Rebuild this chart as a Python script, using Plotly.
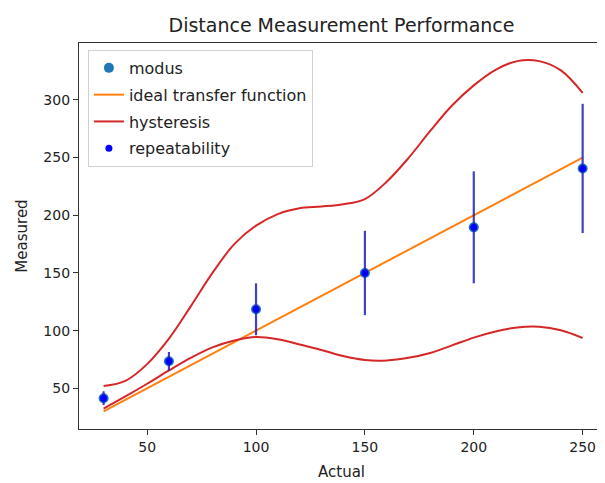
import plotly.graph_objects as go

# ---- data ----
actual = [30, 60, 100, 150, 200, 250]
modus = [41.5, 73.5, 118.5, 150, 189.5, 240.5]
repeat_err = [6, 8, 22.5, 36.5, 48.5, 56]

ideal_x = [30, 250]
ideal_y = [30, 250]

hyst_x = [30, 40, 50, 60, 70, 80, 90, 100, 110, 120, 130, 140, 150, 160,
          170, 180, 190, 200, 210, 220, 230, 240, 250]
hyst_up_y = [52, 56.5, 71, 93, 121, 150, 175, 191, 201, 206, 207.5, 209.5,
             214, 229, 249.5, 273, 295, 312.5, 326, 333.5, 333.5, 325.5, 306]
hyst_lo_y = [32.5, 43, 54, 65.5, 76.4, 85.5, 91.5, 94.5, 92.5, 88, 83.3,
             78, 74.6, 74.2, 76.5, 80.7, 87.2, 94, 99.3, 102.8, 103.4, 100.3,
             93.6]

x_ticks = [50, 100, 150, 200, 250]
y_ticks = [50, 100, 150, 200, 250, 300]

FONT = "DejaVu Sans"
# the page body has an 8px default margin; size the figure so the plot area
# lands where the reference has it
PAGE_OFFSET = 8

fig = go.Figure()

fig.add_trace(go.Scatter(
    x=ideal_x, y=ideal_y, mode="lines", name="ideal transfer function",
    line=dict(color="#ff7f0e", width=2), legendgroup="b", legendrank=2))

fig.add_trace(go.Scatter(
    x=hyst_x, y=hyst_up_y, mode="lines", name="hysteresis",
    line=dict(color="#d62728", width=2, shape="spline", smoothing=1.0),
    legendgroup="c", legendrank=3))
fig.add_trace(go.Scatter(
    x=hyst_x, y=hyst_lo_y, mode="lines", name="hysteresis",
    line=dict(color="#d62728", width=2, shape="spline", smoothing=1.0),
    legendgroup="c", showlegend=False))

fig.add_trace(go.Scatter(
    x=actual, y=modus, mode="markers", name="modus",
    marker=dict(color="#1f77b4", size=10), legendgroup="a", legendrank=1))

fig.add_trace(go.Scatter(
    x=actual, y=modus, mode="markers", name="repeatability",
    marker=dict(color="#0000ff", size=7),
    error_y=dict(type="data", array=repeat_err, visible=True,
                 color="rgba(30,30,190,0.85)", thickness=2.2, width=0),
    legendgroup="d", legendrank=4))

W, H = 605 - PAGE_OFFSET, 483 - PAGE_OFFSET
fig.update_layout(
    width=W, height=H,
    margin=dict(l=79 - PAGE_OFFSET, r=1, t=43 - PAGE_OFFSET, b=54),
    paper_bgcolor="white", plot_bgcolor="white",
    font=dict(family=FONT, size=14, color="#222"),
    title=dict(text="Distance Measurement Performance", x=0.5, xref="paper",
               xanchor="center", y=1 - (25 - PAGE_OFFSET) / H,
               yref="container", yanchor="middle",
               font=dict(size=19, color="#222")),
    legend=dict(x=0.017, y=0.982, xanchor="left", yanchor="top",
                bgcolor="rgba(255,255,255,0.8)", bordercolor="#d0d0d0",
                borderwidth=1, font=dict(size=16, color="#222"),
                traceorder="grouped", tracegroupgap=3),
    showlegend=True,
)

fig.update_xaxes(
    range=[18.7, 259.8], tickvals=x_ticks, ticks="outside", ticklen=5,
    tickwidth=1.2, tickcolor="#333", showline=True, linecolor="#333",
    linewidth=1.3, mirror=True, showgrid=False, zeroline=False,
    tickfont=dict(size=14),
    title=dict(text="Actual", font=dict(size=15), standoff=12))
fig.update_yaxes(
    range=[14.8, 349.2], tickvals=y_ticks, ticks="outside", ticklen=5,
    tickwidth=1.2, tickcolor="#333", showline=True, linecolor="#333",
    linewidth=1.3, showgrid=False, zeroline=False,
    tickfont=dict(size=14),
    title=dict(text="Measured", font=dict(size=15), standoff=12))

fig.write_html("out.html")
